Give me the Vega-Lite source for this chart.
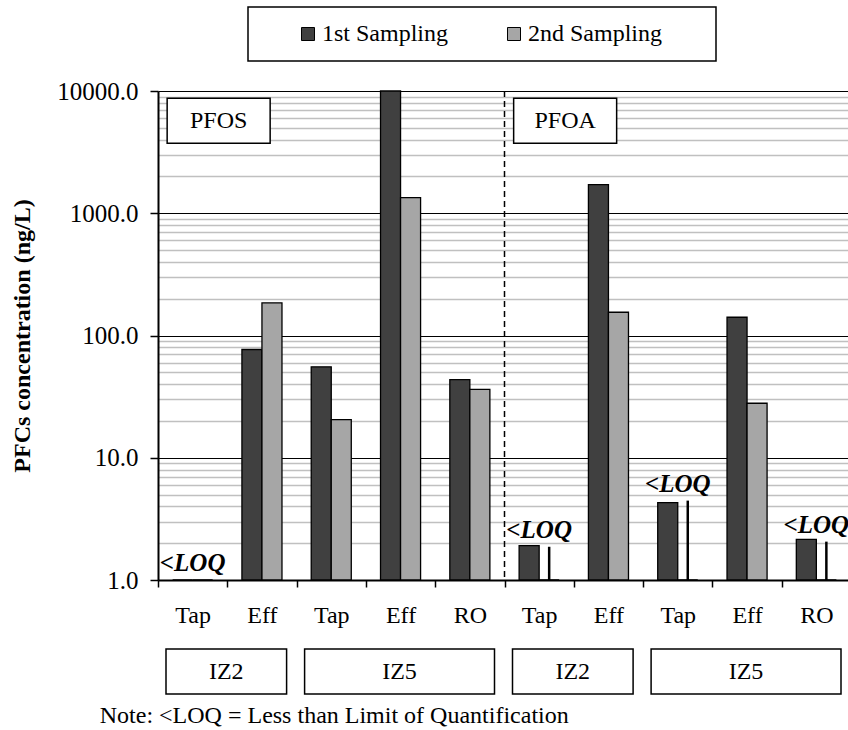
{
  "$schema": "https://vega.github.io/schema/vega-lite/v6.json",
  "background": "white",
  "autosize": {"type": "pad"},
  "padding": {"left": 10, "top": 6, "right": 0, "bottom": 0},
  "config": {
    "font": "Liberation Serif",
    "view": {"stroke": null},
    "axis": {"labelFont": "Liberation Serif", "titleFont": "Liberation Serif", "labelColor": "black", "titleColor": "black"},
    "legend": {"strokeColor": "black", "strokeWidth": 1.5, "labelFont": "Liberation Serif", "labelColor": "black"}
  },
  "datasets": {
    "bars": [
      {"cat": "PFOS|IZ2|Tap", "sampling": "1st Sampling", "value": 1},
      {"cat": "PFOS|IZ2|Tap", "sampling": "2nd Sampling", "value": 1},
      {"cat": "PFOS|IZ2|Eff", "sampling": "1st Sampling", "value": 76.8},
      {"cat": "PFOS|IZ2|Eff", "sampling": "2nd Sampling", "value": 185},
      {"cat": "PFOS|IZ5|Tap", "sampling": "1st Sampling", "value": 55.4},
      {"cat": "PFOS|IZ5|Tap", "sampling": "2nd Sampling", "value": 20.5},
      {"cat": "PFOS|IZ5|Eff", "sampling": "1st Sampling", "value": 10000},
      {"cat": "PFOS|IZ5|Eff", "sampling": "2nd Sampling", "value": 1340},
      {"cat": "PFOS|IZ5|RO", "sampling": "1st Sampling", "value": 43.6},
      {"cat": "PFOS|IZ5|RO", "sampling": "2nd Sampling", "value": 36.3},
      {"cat": "PFOA|IZ2|Tap", "sampling": "1st Sampling", "value": 1.91},
      {"cat": "PFOA|IZ2|Tap", "sampling": "2nd Sampling", "value": 1},
      {"cat": "PFOA|IZ2|Eff", "sampling": "1st Sampling", "value": 1713},
      {"cat": "PFOA|IZ2|Eff", "sampling": "2nd Sampling", "value": 155},
      {"cat": "PFOA|IZ5|Tap", "sampling": "1st Sampling", "value": 4.3},
      {"cat": "PFOA|IZ5|Tap", "sampling": "2nd Sampling", "value": 1},
      {"cat": "PFOA|IZ5|Eff", "sampling": "1st Sampling", "value": 141},
      {"cat": "PFOA|IZ5|Eff", "sampling": "2nd Sampling", "value": 27.9},
      {"cat": "PFOA|IZ5|RO", "sampling": "1st Sampling", "value": 2.15},
      {"cat": "PFOA|IZ5|RO", "sampling": "2nd Sampling", "value": 1}
    ],
    "loq": [
      {"cat": "PFOS|IZ2|Tap", "level": 1, "label": "<LOQ"},
      {"cat": "PFOA|IZ2|Tap", "level": 1.87, "label": "<LOQ"},
      {"cat": "PFOA|IZ5|Tap", "level": 4.46, "label": "<LOQ"},
      {"cat": "PFOA|IZ5|RO", "level": 2.06, "label": "<LOQ"}
    ],
    "panels": [
      {"cat": "PFOS|IZ2|Tap", "panel": "PFOS"},
      {"cat": "PFOA|IZ2|Tap", "panel": "PFOA"}
    ],
    "divider": [
      {"cat": "PFOA|IZ2|Tap"}
    ],
    "groups": [
      {"chem": "PFOS", "grp": "IZ2", "s": 0, "e": 2},
      {"chem": "PFOS", "grp": "IZ5", "s": 2, "e": 5},
      {"chem": "PFOA", "grp": "IZ2", "s": 5, "e": 7},
      {"chem": "PFOA", "grp": "IZ5", "s": 7, "e": 10}
    ]
  },
  "title": {
    "text": "Note: <LOQ = Less than Limit of Quantification",
    "orient": "bottom",
    "anchor": "start",
    "dx": 89,
    "offset": 9,
    "font": "Liberation Serif",
    "fontSize": 24,
    "fontWeight": "normal",
    "color": "black"
  },
  "spacing": 21,
  "vconcat": [
    {
      "width": 693,
      "height": 489,
      "layer": [
        {
          "data": {"name": "bars"},
          "mark": {"type": "bar", "stroke": "black", "strokeWidth": 1.3},
          "encoding": {
            "x": {
              "field": "cat", "type": "nominal",
              "scale": {"domain": ["PFOS|IZ2|Tap","PFOS|IZ2|Eff","PFOS|IZ5|Tap","PFOS|IZ5|Eff","PFOS|IZ5|RO","PFOA|IZ2|Tap","PFOA|IZ2|Eff","PFOA|IZ5|Tap","PFOA|IZ5|Eff","PFOA|IZ5|RO"], "paddingInner": 0, "paddingOuter": 0},
              "axis": {"title": null, "labelExpr": "split(datum.label, '|')[2]", "labelFontSize": 24, "labelAngle": 0, "tickBand": "extent", "tickSize": 7, "tickColor": "black", "tickWidth": 1.5, "domainColor": "black", "domainWidth": 2, "labelPadding": 16, "grid": false}
            },
            "xOffset": {"field": "sampling", "type": "nominal", "scale": {"domain": ["1st Sampling", "2nd Sampling"], "paddingInner": 0, "paddingOuter": 0.73}},
            "y": {
              "field": "value", "type": "quantitative", "stack": null,
              "scale": {"type": "log", "domain": [1, 10000], "nice": false},
              "axis": {"values": [1, 10, 100, 1000, 10000], "format": ".1f", "title": "PFCs concentration (ng/L)", "titleFontSize": 24, "titleFontWeight": "bold", "titlePadding": 22, "labelFontSize": 25, "labelPadding": 12, "tickSize": 8, "tickColor": "black", "tickWidth": 1.5, "domainColor": "black", "domainWidth": 2, "grid": true, "gridColor": "black", "gridWidth": 1}
            },
            "color": {
              "field": "sampling", "type": "nominal",
              "scale": {"domain": ["1st Sampling", "2nd Sampling"], "range": ["#404040", "#A6A6A6"]},
              "legend": {"orient": "none", "legendX": 90, "legendY": -84, "direction": "horizontal", "title": " ", "titleOrient": "right", "titlePadding": 39, "symbolType": "square", "symbolSize": 169, "symbolStrokeColor": "black", "symbolStrokeWidth": 1, "symbolOffset": 33, "labelOffset": 2, "columnPadding": 20, "labelFontSize": 24, "padding": 15}
            }
          }
        },
        {
          "data": {"name": "loq"},
          "mark": {"type": "rule", "color": "black", "strokeWidth": 2.5},
          "encoding": {
            "x": {"field": "cat", "type": "nominal"},
            "xOffset": {"datum": "2nd Sampling"},
            "y": {"field": "level", "type": "quantitative",
              "axis": {"orient": "left", "values": [2,3,4,5,6,7,8,9,20,30,40,50,60,70,80,90,200,300,400,500,600,700,800,900,2000,3000,4000,5000,6000,7000,8000,9000], "grid": true, "gridColor": "#C0C0C0", "gridWidth": 1.5, "labels": false, "ticks": false, "domain": false, "title": null}},
            "y2": {"datum": 1}
          }
        },
        {
          "data": {"name": "loq"},
          "mark": {"type": "text", "fontSize": 25, "fontStyle": "italic", "fontWeight": "bold", "dy": -9, "baseline": "alphabetic", "align": "center", "color": "black"},
          "encoding": {
            "x": {"field": "cat", "type": "nominal"},
            "y": {"field": "level", "type": "quantitative", "axis": null},
            "text": {"field": "label"}
          }
        },
        {
          "data": {"name": "divider"},
          "mark": {"type": "rule", "color": "black", "strokeWidth": 1.5, "strokeDash": [6, 4]},
          "encoding": {
            "x": {"field": "cat", "type": "nominal", "bandPosition": 0}
          }
        },
        {
          "data": {"name": "panels"},
          "mark": {"type": "point", "shape": "M-1,-0.437L1,-0.437L1,0.437L-1,0.437Z", "size": 10609, "filled": true, "fill": "white", "stroke": "black", "strokeWidth": 1.5, "opacity": 1, "xOffset": 26},
          "encoding": {
            "x": {"field": "cat", "type": "nominal"},
            "y": {"datum": 5700, "type": "quantitative", "axis": null}
          }
        },
        {
          "data": {"name": "panels"},
          "mark": {"type": "text", "fontSize": 24, "baseline": "middle", "align": "center", "color": "black", "xOffset": 26},
          "encoding": {
            "x": {"field": "cat", "type": "nominal"},
            "y": {"datum": 5700, "type": "quantitative", "axis": null},
            "text": {"field": "panel"}
          }
        }
      ],
      "resolve": {"axis": {"y": "independent"}}
    },
    {
      "width": 693,
      "height": 45,
      "data": {"name": "groups"},
      "layer": [
        {
          "mark": {"type": "rect", "fill": "white", "stroke": "black", "strokeWidth": 1.5, "xOffset": 8, "x2Offset": -10},
          "encoding": {
            "x": {"field": "s", "type": "quantitative", "scale": {"domain": [0, 10], "nice": false, "zero": false}, "axis": null},
            "x2": {"field": "e"}
          }
        },
        {
          "transform": [
            {"fold": ["s", "e"], "as": ["k", "v"]},
            {"aggregate": [{"op": "mean", "field": "v", "as": "mid"}], "groupby": ["chem", "grp"]}
          ],
          "mark": {"type": "text", "fontSize": 24, "baseline": "middle", "align": "center", "color": "black", "xOffset": -1},
          "encoding": {
            "x": {"field": "mid", "type": "quantitative", "axis": null},
            "text": {"field": "grp"}
          }
        }
      ]
    }
  ]
}
